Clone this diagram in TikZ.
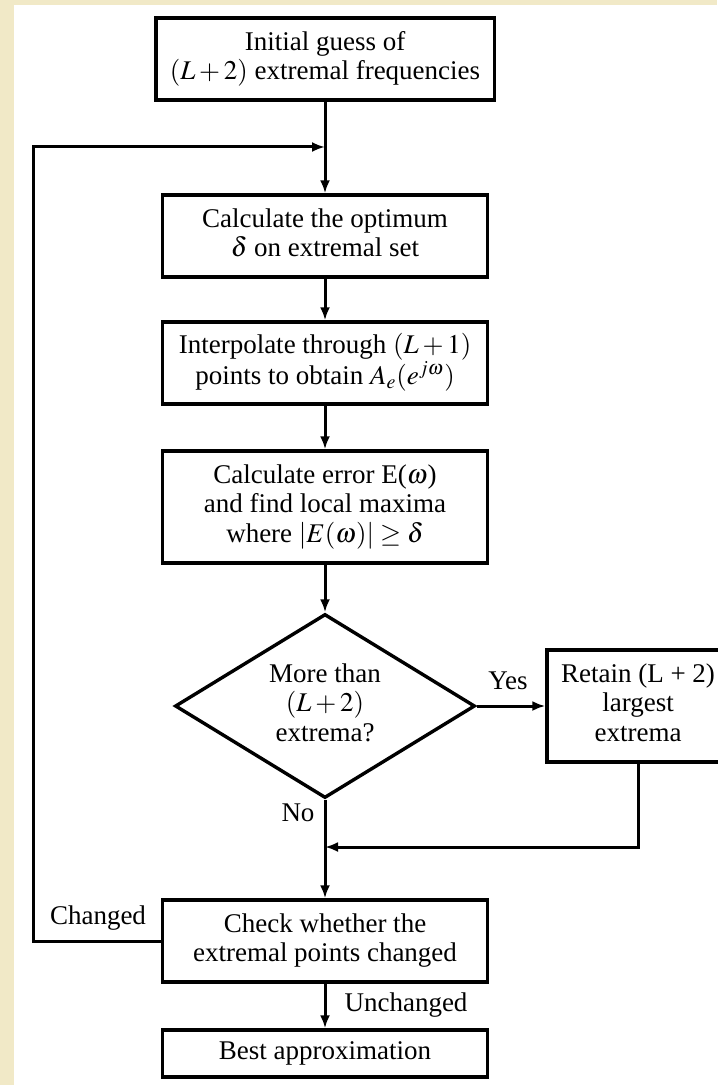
\documentclass[tikz,border=0pt]{standalone}
\usepackage{mathptmx}
\usepackage{fontspec}
\setmainfont{Liberation Serif}
\usetikzlibrary{shapes.geometric,arrows.meta}
\definecolor{parchment}{RGB}{241,233,199}

\begin{document}
\begin{tikzpicture}[x=0.5pt, y=-0.5pt,
  flowbox/.style={draw, rectangle, line width=1.7pt, minimum width=162.5pt,
    minimum height=41pt, inner sep=1pt, font=\fontsize{13.5}{14.8}\selectfont},
  decision/.style={draw, diamond, line width=1.7pt, shape aspect=1.63,
    minimum width=150pt, minimum height=92pt, inner sep=0pt,
    font=\fontsize{13.5}{14.8}\selectfont},
  flowline/.style={line width=1.5pt, >={Latex[length=6.5pt,width=5pt]}},
  tag/.style={font=\fontsize{13.5}{14.8}\selectfont}]

\def \axis {325}
\useasboundingbox (0,0) rectangle (717,1085);
\fill[parchment] (0,0) rectangle (717,1085);
\fill[white] (14,5) rectangle (717,1085);
%
  \node[flowbox] (init) at (\axis,59) {\begin{tabular}{c}Initial guess of\\$(L+2)$ extremal frequencies\end{tabular}};
  \node[flowbox] (optim) at (\axis,236) {\begin{tabular}{c}Calculate the optimum\\$\delta$ on extremal set\end{tabular}};
  \node[flowbox] (interp) at (\axis,363) {\begin{tabular}{c}Interpolate through $(L+1)$\\points to obtain $A_e(e^{j\omega})$\end{tabular}};
  \node[flowbox, minimum height=56pt] (error) at (\axis,507) {\begin{tabular}{c}Calculate error E($\omega$)\\and find local maxima\\where $|E(\omega)|\geq\delta$\end{tabular}};
%
  \node[decision] (more) at (\axis,706) {\begin{tabular}{c}More than\\$(L+2)$\\extrema?\end{tabular}};
  \node[flowbox, minimum width=88pt, minimum height=56pt] (retain) at (638,706) {\begin{tabular}{c}Retain (L + 2)\\largest\\extrema\end{tabular}};
%
  \node[flowbox] (check) at (\axis,941) {\begin{tabular}{c}Check whether the\\extremal points changed\end{tabular}};
  \node[flowbox, minimum height=23.5pt] (best) at (\axis,1053.5) {Best approximation};
%
  \coordinate (join) at (\axis,147);
  \coordinate (loop) at (33,147);
  \coordinate (merge) at (\axis,847);
%
  \draw[flowline, ->] (init) -- (optim);
  \draw[flowline, ->] (check.west) -| (loop) -- (join);
  \draw[flowline, ->] (optim) -- (interp);
  \draw[flowline, ->] (interp) -- (error);
  \draw[flowline, ->] (error) -- (more);
  \draw[flowline, ->] (more.east) -- (retain.west);
  \draw[flowline, ->] (more.south) -- (check.north);
  \draw[flowline, ->] (retain.south) |- (merge);
  \draw[flowline, ->] (check) -- (best);
%
  \node[tag] (yes) at (508,681) {Yes};
  \node[tag] (no) at (298,813) {No};
  \node[tag] (changed) at (98,918) {Changed};
  \node[tag] (unchanged) at (406,1005) {Unchanged};
%
\end{tikzpicture}
\end{document}
